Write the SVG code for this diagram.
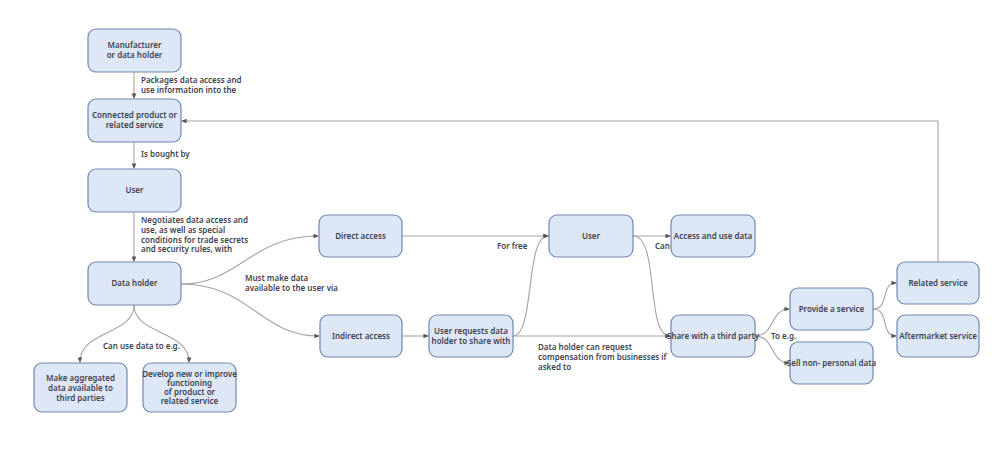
<svg xmlns="http://www.w3.org/2000/svg" width="1000" height="454" viewBox="0 0 1000 454">
<style>
.n rect{fill:#dde7f5;stroke:#7088b3;stroke-width:1.2}
.n text,.l{font-family:"Noto Sans","Open Sans",sans-serif;font-size:8px;fill:#3e4350;font-weight:600}
.n text{text-anchor:middle}
.c path{fill:none;stroke:#a3a3a3;stroke-width:1.1;marker-end:url(#a)}
</style>
<defs><marker id="a" viewBox="0 0 6 6" refX="5" refY="3" markerWidth="5" markerHeight="5" orient="auto"><path d="M0,0.5L6,3L0,5.5z" fill="#555"/></marker></defs>
<rect width="1000" height="454" fill="#fff"/>
<g class="c">
<path d="M134,72V98"/>
<path d="M134,142V168"/>
<path d="M134,212V261"/>
<path d="M938,262V121H182"/>
<path d="M181,284C240,284,250,236,318,236"/>
<path d="M181,284C250,284,260,336,319,336"/>
<path d="M134,305C134,335,80,330,80,362"/>
<path d="M134,305C134,335,189,330,189,362"/>
<path d="M402,336H428"/>
<path d="M402,236H548"/>
<path d="M513,336C535,336,525,236,548,236"/>
<path d="M513,336H670"/>
<path d="M633,236H670"/>
<path d="M633,236C660,236,645,336,670,336"/>
<path d="M755,336C775,336,770,309,789,309"/>
<path d="M755,336C775,336,770,363,789,363"/>
<path d="M873,309C890,309,880,283,896,283"/>
<path d="M873,309C890,309,880,336,896,336"/>
</g>
<g class="n" id="manufacturer"><rect x="88" y="29" width="93" height="43" rx="8"/><text x="134.5" y="48">Manufacturer</text><text x="134.5" y="58">or data holder</text></g>
<g class="n" id="connected"><rect x="88" y="99" width="93" height="43" rx="8"/><text x="134.5" y="118">Connected product or</text><text x="134.5" y="128">related service</text></g>
<g class="n" id="user1"><rect x="88" y="169" width="93" height="43" rx="8"/><text x="134.5" y="193">User</text></g>
<g class="n" id="dataholder"><rect x="88" y="262" width="93" height="43" rx="8"/><text x="134.5" y="286">Data holder</text></g>
<g class="n" id="aggregated"><rect x="34" y="363" width="93" height="49" rx="8"/><text x="80.5" y="381">Make aggregated</text><text x="80.5" y="391">data available to</text><text x="80.5" y="401">third parties</text></g>
<g class="n" id="develop"><rect x="143" y="363" width="93" height="49" rx="8"/><text x="189.5" y="377">Develop new or improve</text><text x="189.5" y="386">functioning</text><text x="189.5" y="395">of product or</text><text x="189.5" y="404">related service</text></g>
<g class="n" id="direct"><rect x="319" y="215" width="83" height="42" rx="8"/><text x="360.5" y="239">Direct access</text></g>
<g class="n" id="indirect"><rect x="320" y="315" width="82" height="42" rx="8"/><text x="361" y="339">Indirect access</text></g>
<g class="n" id="requests"><rect x="429" y="315" width="84" height="42" rx="8"/><text x="471" y="334">User requests data</text><text x="471" y="344">holder to share with</text></g>
<g class="n" id="user2"><rect x="549" y="215" width="84" height="42" rx="8"/><text x="591" y="239">User</text></g>
<g class="n" id="access"><rect x="671" y="215" width="84" height="42" rx="8"/><text x="713" y="239">Access and use data</text></g>
<g class="n" id="share"><rect x="671" y="315" width="84" height="42" rx="8"/><text x="713" y="339">Share with a third party</text></g>
<g class="n" id="provide"><rect x="790" y="288" width="83" height="42" rx="8"/><text x="831.5" y="312">Provide a service</text></g>
<g class="n" id="sell"><rect x="790" y="342" width="83" height="42" rx="8"/><text x="831.5" y="366">Sell non- personal data</text></g>
<g class="n" id="related"><rect x="897" y="262" width="82" height="42" rx="8"/><text x="938" y="286">Related service</text></g>
<g class="n" id="aftermarket"><rect x="897" y="315" width="82" height="42" rx="8"/><text x="938" y="339">Aftermarket service</text></g>
<g class="labels">
<text class="l" x="141" y="83">Packages data access and</text><text class="l" x="141" y="93">use information into the</text>
<text class="l" x="141" y="157">Is bought by</text>
<text class="l" x="141" y="223">Negotiates data access and</text><text class="l" x="141" y="233">use, as well as special</text><text class="l" x="141" y="243">conditions for trade secrets</text><text class="l" x="141" y="252">and security rules, with</text>
<text class="l" x="245" y="281">Must make data</text><text class="l" x="245" y="291">available to the user via</text>
<text class="l" x="103" y="349">Can use data to e.g.</text>
<text class="l" x="497" y="249">For free</text>
<text class="l" x="655" y="249">Can</text>
<text class="l" x="771" y="339">To e.g.</text>
<text class="l" x="538" y="350">Data holder can request</text><text class="l" x="538" y="360">compensation from businesses if</text><text class="l" x="538" y="370">asked to</text>
</g>
</svg>
